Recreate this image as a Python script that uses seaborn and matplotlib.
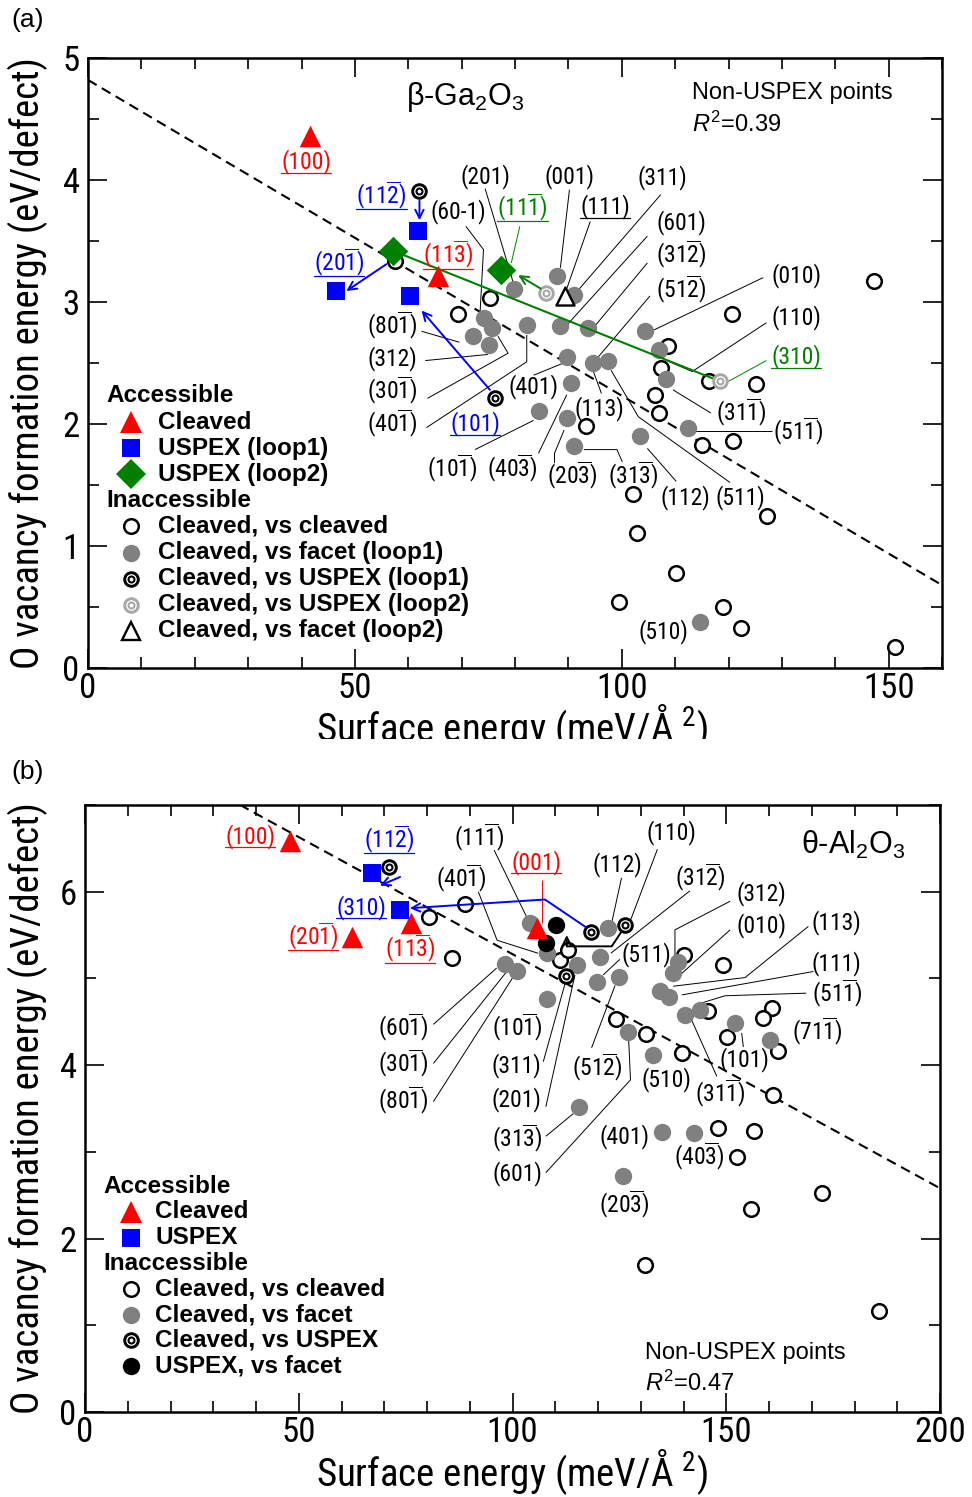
import numpy as np
import matplotlib
matplotlib.use("Agg")
import matplotlib.pyplot as plt
import seaborn as sns
from matplotlib import font_manager
from matplotlib.lines import Line2D
from matplotlib.ticker import MultipleLocator
from matplotlib.transforms import Bbox, TransformedBbox

# ---------------------------------------------------------------------------
# beta-Ga2O3 : surface energy (meV/A^2) vs O vacancy formation energy (eV)
# ---------------------------------------------------------------------------
ga_cleaved_x = [41.5, 65.6]
ga_cleaved_y = [4.36, 3.21]
ga_uspex1_x = [61.8, 46.5, 60.3]
ga_uspex1_y = [3.58, 3.09, 3.05]
ga_uspex2_x = [57.1, 77.3]
ga_uspex2_y = [3.42, 3.26]
ga_vs_cleaved_x = [69.4, 75.3, 57.5, 120.6, 147.3, 108.6, 107.3, 116.4, 125.2, 106.3, 107.0,
                   93.3, 115.1, 120.8, 102.2, 102.9, 127.3, 110.2, 99.5, 118.9, 122.3, 151.2]
ga_vs_cleaved_y = [2.90, 3.03, 3.34, 2.90, 3.17, 2.64, 2.46, 2.35, 2.33, 2.24, 2.09,
                   1.98, 1.83, 1.86, 1.43, 1.11, 1.25, 0.78, 0.54, 0.50, 0.33, 0.17]
ga_vs_facet1_x = [87.8, 79.8, 91.0, 74.1, 75.7, 72.1, 75.1, 82.2, 88.4, 93.6, 104.4, 107.0,
                  89.7, 94.6, 97.5, 108.3, 90.4, 84.5, 89.7, 91.0, 103.4, 112.4, 114.6]
ga_vs_facet1_y = [3.21, 3.11, 3.06, 2.87, 2.79, 2.72, 2.65, 2.81, 2.80, 2.79, 2.76, 2.61,
                  2.55, 2.50, 2.52, 2.37, 2.34, 2.11, 2.05, 1.82, 1.90, 1.97, 0.38]
ga_vs_uspex1_x = [62.1, 76.3]
ga_vs_uspex1_y = [3.91, 2.21]
ga_vs_uspex2_x = [85.8, 118.4]
ga_vs_uspex2_y = [3.07, 2.35]
ga_vs_facet2_x = [89.4]
ga_vs_facet2_y = [3.05]
ga_fit_intercept, ga_fit_slope = 4.82, -0.02588
ga_r2 = 0.39

# ---------------------------------------------------------------------------
# theta-Al2O3
# ---------------------------------------------------------------------------
al_cleaved_x = [47.95, 62.4, 76.3, 105.8]
al_cleaved_y = [6.58, 5.48, 5.64, 5.58]
al_uspex_x = [67.2, 73.7]
al_uspex_y = [6.22, 5.79]
al_vs_cleaved_x = [89.0, 80.5, 85.9, 140.0, 149.2, 111.1, 113.0, 145.8, 160.6, 158.7, 150.1, 162.2,
                   124.2, 131.2, 139.6, 160.9, 148.1, 156.6, 152.4, 172.3, 155.9, 131.1, 185.7]
al_vs_cleaved_y = [5.86, 5.71, 5.23, 5.27, 5.16, 5.21, 5.33, 4.62, 4.66, 4.54, 4.32, 4.16,
                   4.53, 4.36, 4.14, 3.66, 3.27, 3.24, 2.94, 2.53, 2.34, 1.70, 1.16]
al_vs_facet_x = [104.1, 108.0, 115.0, 98.2, 101.0, 122.4, 120.5, 119.7, 124.8, 108.0, 138.8, 137.6,
                 134.5, 136.5, 140.4, 143.9, 152.0, 160.2, 127.1, 132.9, 115.6, 134.9, 142.5, 125.8]
al_vs_facet_y = [5.64, 5.29, 5.16, 5.17, 5.09, 5.58, 5.25, 4.96, 5.02, 4.76, 5.19, 5.06,
                 4.85, 4.79, 4.58, 4.64, 4.49, 4.29, 4.38, 4.12, 3.52, 3.23, 3.22, 2.72]
al_vs_uspex_x = [71.0, 118.3, 126.3, 112.4]
al_vs_uspex_y = [6.29, 5.53, 5.62, 5.03]
al_uspex_vs_facet_x = [110.2, 107.8]
al_uspex_vs_facet_y = [5.62, 5.41]
al_fit_intercept, al_fit_slope = 7.98, -0.0270
al_r2 = 0.47

# Facet labels: text ("~" puts a bar over the next digit), anchor, colour,
# underlined?, leader line towards the labelled point
ga_labels = [
    ("(100)", 40.9, 4.15, "red", True, None),
    ("(11~2)", 55.0, 3.88, "blue", True, None),
    ("(60-1)", 69.3, 3.74, "black", False, [(70.8, 3.62), (74.1, 3.43), (73.4, 2.87)]),
    ("(20~1)", 47.0, 3.33, "blue", True, None),
    ("(11~3)", 67.4, 3.39, "red", True, None),
    ("(201)", 74.4, 4.03, "black", False, [(74.4, 3.93), (79.8, 3.14)]),
    ("(001)", 90.2, 4.03, "black", False, [(90.2, 3.92), (88.5, 3.28)]),
    ("(311)", 107.6, 4.02, "black", False, [(107.3, 3.88), (91.7, 3.09)]),
    ("(11~1)", 81.4, 3.78, "green", True, [(80.9, 3.62), (79.3, 3.32)]),
    ("(111)", 96.9, 3.78, "black", True, [(94.1, 3.66), (89.7, 3.11)]),
    ("(601)", 111.1, 3.65, "black", False, [(104.8, 3.54), (89.7, 2.81)]),
    ("(31~2)", 111.1, 3.39, "black", False, [(104.8, 3.32), (94.9, 2.80)]),
    ("(51~2)", 111.1, 3.11, "black", False, [(105.3, 3.05), (95.6, 2.55)]),
    ("(010)", 132.7, 3.22, "black", False, [(126.5, 3.20), (106.0, 2.77)]),
    ("(110)", 132.7, 2.87, "black", False, [(127.1, 2.83), (113.2, 2.43), (107.9, 2.53)]),
    ("(310)", 132.7, 2.55, "green", True, [(127.1, 2.52), (120.0, 2.35)]),
    ("(31~1)", 122.3, 2.10, "black", False, [(116.7, 2.09), (109.6, 2.28)]),
    ("(51~1)", 133.0, 1.94, "black", False, [(128.1, 1.94), (113.8, 1.94)]),
    ("(401)", 83.5, 2.31, "black", False, [(83.5, 2.40), (89.1, 2.50)]),
    ("(113)", 95.9, 2.13, "black", False, [(96.2, 2.25), (94.6, 2.44)]),
    ("(101)", 72.5, 2.00, "blue", True, None),
    ("(10~1)", 68.2, 1.64, "black", False, [(72.5, 1.79), (83.5, 2.03)]),
    ("(40~3)", 79.4, 1.64, "black", False, [(84.4, 1.76), (89.7, 2.24)]),
    ("(20~3)", 90.7, 1.58, "black", False, [(87.4, 1.68), (87.4, 1.76), (89.2, 1.95)]),
    ("(31~3)", 102.1, 1.58, "black", False, [(100.1, 1.69), (99.1, 1.79), (92.9, 1.79)]),
    ("(112)", 112.0, 1.40, "black", False, [(110.2, 1.53), (104.8, 1.80)]),
    ("(511)", 122.3, 1.40, "black", False, [(120.3, 1.52), (103.1, 2.06), (98.0, 2.44)]),
    ("(510)", 107.9, 0.30, "black", False, None),
    ("(80~1)", 57.0, 2.81, "black", False, [(62.5, 2.76), (69.6, 2.67)]),
    ("(312)", 57.0, 2.54, "black", False, [(63.2, 2.52), (74.9, 2.57)]),
    ("(30~1)", 57.0, 2.28, "black", False, [(63.6, 2.21), (78.7, 2.58), (76.8, 2.72)]),
    ("(40~1)", 57.0, 2.01, "black", False, [(63.4, 1.97), (82.2, 2.51), (82.2, 2.73)]),
]

al_labels = [
    ("(100)", 38.6, 6.64, "red", True, None),
    ("(11~2)", 71.1, 6.61, "blue", True, None),
    ("(310)", 64.6, 5.82, "blue", True, None),
    ("(20~1)", 53.4, 5.49, "red", True, None),
    ("(11~3)", 76.0, 5.35, "red", True, None),
    ("(60~1)", 74.5, 4.44, "black", False, [(81.5, 4.47), (96.3, 5.12)]),
    ("(30~1)", 74.5, 4.02, "black", False, [(81.5, 4.02), (99.0, 5.10)]),
    ("(80~1)", 74.5, 3.60, "black", False, [(81.5, 3.58), (100.2, 5.02)]),
    ("(11~1)", 92.2, 6.63, "black", False, [(95.7, 6.48), (103.2, 5.72)]),
    ("(001)", 105.5, 6.34, "red", True, [(106.8, 6.14), (106.8, 5.64)]),
    ("(40~1)", 87.9, 6.16, "black", False, [(92.0, 6.00), (96.4, 5.44), (106.0, 5.29)]),
    ("(112)", 124.5, 6.31, "black", False, [(125.5, 6.16), (123.2, 5.64)]),
    ("(110)", 137.2, 6.68, "black", False, [(133.9, 6.49), (127.6, 5.67)]),
    ("(31~2)", 143.9, 6.17, "black", False, [(141.5, 6.01), (123.0, 5.29)]),
    ("(312)", 158.3, 5.98, "black", False, [(150.9, 5.89), (138.0, 5.56), (138.0, 5.21)]),
    ("(010)", 158.3, 5.61, "black", False, [(150.9, 5.56), (139.2, 5.04)]),
    ("(113)", 175.8, 5.64, "black", False, [(169.2, 5.60), (154.4, 5.01), (137.6, 4.91)]),
    ("(111)", 175.8, 5.17, "black", False, [(170.4, 5.08), (139.6, 4.81)]),
    ("(51~1)", 176.0, 4.83, "black", False, [(168.7, 4.83), (149.7, 4.80), (143.1, 4.70)]),
    ("(511)", 131.2, 5.28, "black", False, [(125.1, 5.22), (121.2, 5.04)]),
    ("(71~1)", 171.3, 4.39, "black", False, None),
    ("(101)", 154.2, 4.07, "black", False, [(154.0, 4.21), (153.6, 4.37)]),
    ("(31~1)", 148.5, 3.68, "black", False, [(147.8, 3.87), (141.9, 4.52)]),
    ("(510)", 136.1, 3.83, "black", False, None),
    ("(51~2)", 119.7, 3.98, "black", False, [(118.5, 4.20), (124.0, 4.92)]),
    ("(10~1)", 101.1, 4.44, "black", False, None),
    ("(311)", 101.0, 4.00, "black", False, [(107.2, 4.04), (112.4, 4.96)]),
    ("(201)", 101.0, 3.60, "black", False, [(107.8, 3.52), (114.6, 5.04)]),
    ("(31~3)", 101.1, 3.16, "black", False, [(107.8, 3.18), (114.2, 3.44)]),
    ("(601)", 101.1, 2.75, "black", False, [(107.8, 2.76), (127.6, 3.83), (127.1, 4.37)]),
    ("(401)", 126.3, 3.18, "black", False, None),
    ("(40~3)", 143.7, 2.95, "black", False, None),
    ("(20~3)", 126.1, 2.40, "black", False, None),
]

# Connections between a cleaved facet and the reconstructed surface it became
ga_green_link = [(57.1, 3.42), (118.4, 2.35)]
ga_arrows = [
    ("green", [(84.8, 3.11), (80.6, 3.22)]),
    ("blue", [(62.1, 3.83), (62.1, 3.67)]),
    ("blue", [(55.9, 3.31), (48.4, 3.09)]),
    ("blue", [(75.3, 2.28), (62.5, 2.93)]),
]
al_arrows = [
    ("blue", [(117.2, 5.59), (107.6, 5.91), (76.0, 5.81)]),
    ("blue", [(73.7, 6.17), (69.0, 6.07)]),
    ("black", [(125.5, 5.54), (123.2, 5.37), (112.7, 5.37), (112.7, 5.50)]),
]

# ---------------------------------------------------------------------------
# fonts / theme
# ---------------------------------------------------------------------------
sns.set_style("ticks")
_names = {f.name for f in font_manager.fontManager.ttflist}
NARROW = next((n for n in ["Liberation Sans Narrow", "Roboto Condensed", "DejaVu Sans Condensed"]
               if n in _names), "Liberation Sans")
SANS = "Liberation Sans" if "Liberation Sans" in _names else "DejaVu Sans"
plt.rcParams.update({
    "font.family": [NARROW, "DejaVu Sans"],
    "mathtext.fontset": "custom",
    "mathtext.rm": NARROW,
    "mathtext.sf": SANS,
    "mathtext.it": SANS + ":italic",
    "mathtext.bf": SANS + ":bold",
    "axes.edgecolor": "black",
    "text.color": "black",
    "axes.labelcolor": "black",
    "xtick.color": "black",
    "ytick.color": "black",
})

GREEN = "#008000"
GRAY = "#808080"
LGRAY = "#a8a8a8"
STYLES = {
    "cleaved": dict(marker="^", ms=15.5, fc="red", ec="red", lw=0),
    "uspex1": dict(marker="s", ms=13, fc="blue", ec="blue", lw=0),
    "uspex2": dict(marker="D", ms=15, fc=GREEN, ec=GREEN, lw=0),
    "open": dict(marker="o", ms=10.5, fc="white", ec="black", lw=1.8),
    "gray": dict(marker="o", ms=12.5, fc=GRAY, ec=GRAY, lw=0),
    "black": dict(marker="o", ms=12.5, fc="black", ec="black", lw=0),
    "eye": dict(marker="o", ms=9.8, fc="white", ec="black", lw=2.1),
    "eye_gray": dict(marker="o", ms=9.8, fc="white", ec=LGRAY, lw=2.1),
    "tri_open": dict(marker="^", ms=13, fc="white", ec="black", lw=1.7),
}


def draw_points(ax, xs, ys, key, z):
    st = STYLES[key]
    sns.scatterplot(x=np.asarray(xs, float), y=np.asarray(ys, float), ax=ax,
                    marker=st["marker"], s=st["ms"] ** 2, color=st["fc"],
                    edgecolor=st["ec"], linewidth=st["lw"], zorder=z, legend=False)
    if key.startswith("eye"):
        sns.scatterplot(x=np.asarray(xs, float), y=np.asarray(ys, float), ax=ax,
                        marker="o", s=4.3 ** 2, color="white", edgecolor=st["ec"],
                        linewidth=1.5, zorder=z + 0.1, legend=False)


def legend_marker(ax, x, y, key):
    st = STYLES[key]
    ax.plot([x], [y], transform=ax.transAxes, ls="none", marker=st["marker"], ms=st["ms"],
            mfc=st["fc"], mec=st["ec"], mew=st["lw"], clip_on=False, zorder=9)
    if key.startswith("eye"):
        ax.plot([x], [y], transform=ax.transAxes, ls="none", marker="o", ms=4.3,
                mfc="white", mec=st["ec"], mew=1.5, clip_on=False, zorder=9.1)


def hkl(s):
    out, i = "", 0
    while i < len(s):
        if s[i] == "~":
            out += r"$\overline{\mathrm{%s}}$" % s[i + 1]
            i += 2
        else:
            out += s[i]
            i += 1
    return out


underlined = []


def put_labels(ax, labels):
    for text, x, y, col, ul, lead in labels:
        if lead is not None:
            lx, ly = zip(*lead)
            ax.plot(lx, ly, color=col, lw=0.7, zorder=2.5, solid_capstyle="butt")
        t = ax.text(x, y, hkl(text), color=col, fontsize=17, ha="center", va="center",
                    family=[NARROW, "DejaVu Sans"], zorder=8)
        if ul:
            underlined.append((t, col))


def put_arrows(ax, arrows):
    for col, path in arrows:
        xs, ys = zip(*path)
        if len(path) > 2:
            ax.plot(xs[:-1], ys[:-1], color=col, lw=1.4, zorder=7, solid_capstyle="butt")
        ax.annotate("", xy=path[-1], xytext=path[-2], zorder=7,
                    arrowprops=dict(arrowstyle="->", color=col, lw=1.4, shrinkA=0,
                                    shrinkB=0, mutation_scale=15))


def legend_block(ax, rows, xh, xm, xt, y0, dy):
    for i, (key, label) in enumerate(rows):
        y = y0 - i * dy
        if key is None:
            ax.text(xh, y, label, transform=ax.transAxes, ha="left", va="center",
                    fontsize=17.5, fontweight="bold", family=SANS, zorder=9)
        else:
            legend_marker(ax, xm, y, key)
            ax.text(xt, y, label, transform=ax.transAxes, ha="left", va="center",
                    fontsize=17.5, fontweight="bold", family=SANS, zorder=9)


def style_axes(ax, xmax, ymax, ymaj, ymin):
    ax.set_xlim(0, xmax)
    ax.set_ylim(0, ymax)
    ax.xaxis.set_major_locator(MultipleLocator(50))
    ax.xaxis.set_minor_locator(MultipleLocator(10))
    ax.yaxis.set_major_locator(MultipleLocator(ymaj))
    ax.yaxis.set_minor_locator(MultipleLocator(ymin))
    for sp in ax.spines.values():
        sp.set_linewidth(1.8)
        sp.set_color("black")
        sp.set_zorder(10)
    ax.tick_params(which="both", direction="in", top=True, right=True, width=1.2)
    ax.tick_params(which="major", length=13.5)
    ax.tick_params(which="minor", length=8)
    ax.tick_params(axis="x", which="major", pad=3, labelsize=25)
    ax.tick_params(axis="y", which="major", pad=6, labelsize=25)
    ax.set_xlabel("Surface energy (meV/Å $^{\\mathrm{2}}$)", fontsize=28, va="center")
    ax.set_ylabel("O vacancy formation energy (eV/defect)", fontsize=28, va="center")


fig = plt.figure(figsize=(9.72, 14.97), dpi=100)
axA = fig.add_axes([88 / 972, 1 - 668 / 1497, 854 / 972, 610 / 1497])
axB = fig.add_axes([85 / 972, 1 - 1412 / 1497, 855 / 972, 607 / 1497])

# ---------------------------- panel (a) ------------------------------------
xs = np.array([0, 160.0])
axA.plot(xs, ga_fit_intercept + ga_fit_slope * xs, color="black", lw=1.5,
         ls=(0, (4.8, 2.9)), zorder=2)
draw_points(axA, ga_vs_cleaved_x, ga_vs_cleaved_y, "open", 3)
draw_points(axA, ga_vs_facet1_x, ga_vs_facet1_y, "gray", 4)
gx, gy = zip(*ga_green_link)
axA.plot(gx, gy, color=GREEN, lw=1.5, zorder=4.5)
draw_points(axA, ga_vs_uspex1_x, ga_vs_uspex1_y, "eye", 5)
draw_points(axA, ga_vs_uspex2_x, ga_vs_uspex2_y, "eye_gray", 5)
draw_points(axA, ga_vs_facet2_x, ga_vs_facet2_y, "tri_open", 5.5)
draw_points(axA, ga_cleaved_x, ga_cleaved_y, "cleaved", 6)
draw_points(axA, ga_uspex1_x, ga_uspex1_y, "uspex1", 6)
draw_points(axA, ga_uspex2_x, ga_uspex2_y, "uspex2", 6)
put_arrows(axA, ga_arrows)
put_labels(axA, ga_labels)
style_axes(axA, 160, 5, 1, 0.5)

axA.text(70.6, 4.68, r"β-Ga$_{\mathsf{2}}$O$_{\mathsf{3}}$", fontsize=22, family=SANS,
         ha="center", va="center", zorder=9)
axA.text(113.2, 4.71, "Non-USPEX points", fontsize=17, family=SANS, ha="left", va="center")
axA.text(113.2, 4.46, r"$\mathit{R}^{\mathsf{2}}$=%.2f" % ga_r2, fontsize=17, family=SANS,
         ha="left", va="center")
legend_block(axA, [(None, "Accessible"), ("cleaved", "Cleaved"), ("uspex1", "USPEX (loop1)"),
                   ("uspex2", "USPEX (loop2)"), (None, "Inaccessible"),
                   ("open", "Cleaved, vs cleaved"), ("gray", "Cleaved, vs facet (loop1)"),
                   ("eye", "Cleaved, vs USPEX (loop1)"), ("eye_gray", "Cleaved, vs USPEX (loop2)"),
                   ("tri_open", "Cleaved, vs facet (loop2)")],
             0.022, 0.050, 0.082, 0.446, 0.0428)
axA.xaxis.set_label_coords(0.496, -0.097)
axA.yaxis.set_label_coords(-0.070, 0.5)
labA = axA.xaxis.label
labA.set_clip_on(True)
labA.set_clip_box(TransformedBbox(Bbox([[0, 1 - 739 / 1497], [1, 1]]), fig.transFigure))

# ---------------------------- panel (b) ------------------------------------
xs = np.array([0, 200.0])
axB.plot(xs, al_fit_intercept + al_fit_slope * xs, color="black", lw=1.5,
         ls=(0, (4.8, 2.9)), zorder=2)
draw_points(axB, al_vs_cleaved_x, al_vs_cleaved_y, "open", 3)
draw_points(axB, al_vs_facet_x, al_vs_facet_y, "gray", 4)
draw_points(axB, al_vs_uspex_x, al_vs_uspex_y, "eye", 5)
draw_points(axB, al_uspex_vs_facet_x, al_uspex_vs_facet_y, "black", 5)
draw_points(axB, al_cleaved_x, al_cleaved_y, "cleaved", 6)
draw_points(axB, al_uspex_x, al_uspex_y, "uspex1", 6)
put_arrows(axB, al_arrows)
put_labels(axB, al_labels)
style_axes(axB, 200, 7, 2, 1)

axB.text(179.6, 6.54, r"θ-Al$_{\mathsf{2}}$O$_{\mathsf{3}}$", fontsize=22, family=SANS,
         ha="center", va="center", zorder=9)
axB.text(131.0, 0.68, "Non-USPEX points", fontsize=17, family=SANS, ha="left", va="center")
axB.text(131.0, 0.33, r"$\mathit{R}^{\mathsf{2}}$=%.2f" % al_r2, fontsize=17, family=SANS,
         ha="left", va="center")
legend_block(axB, [(None, "Accessible"), ("cleaved", "Cleaved"), ("uspex1", "USPEX"),
                   (None, "Inaccessible"), ("open", "Cleaved, vs cleaved"),
                   ("gray", "Cleaved, vs facet"), ("eye", "Cleaved, vs USPEX"),
                   ("black", "USPEX, vs facet")],
             0.021, 0.054, 0.082, 0.372, 0.0423)
axB.xaxis.set_label_coords(0.5, -0.099)
axB.yaxis.set_label_coords(-0.067, 0.5)

fig.text(28 / 972, 1 - 20 / 1497, "(a)", fontsize=19, family=SANS, ha="center", va="center")
fig.text(28 / 972, 1 - 772 / 1497, "(b)", fontsize=19, family=SANS, ha="center", va="center")

# underline the highlighted facet labels
fig.canvas.draw()
renderer = fig.canvas.get_renderer()
inv = fig.transFigure.inverted()
for t, col in underlined:
    bb = t.get_window_extent(renderer=renderer)
    (x0, y0), (x1, _) = inv.transform([(bb.x0, bb.y0 + 1.5), (bb.x1, bb.y0)])
    fig.add_artist(Line2D([x0, x1], [y0, y0], transform=fig.transFigure, color=col, lw=0.9))

fig.savefig("out.png", dpi=100)
